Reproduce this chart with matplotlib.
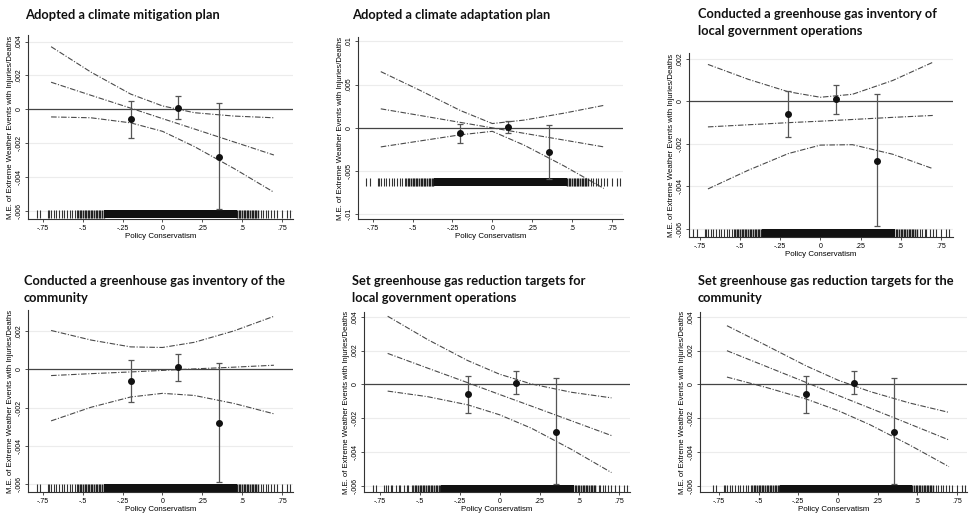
import matplotlib
matplotlib.use("Agg")
import matplotlib.pyplot as plt

# grid of x values used for the marginal effect lines
line_x = [-0.7, -0.45, -0.2, 0.0, 0.2, 0.45, 0.7]

# marginal effect, upper and lower 95% bounds per panel
me_1 = [0.0016, 0.00083, 0.00007, -0.00055, -0.00116, -0.00193, -0.0027]
hi_1 = [0.0037, 0.0022, 0.0009, 0.0002, -0.0002, -0.0004, -0.0005]
lo_1 = [-0.00045, -0.0005, -0.0008, -0.0013, -0.0022, -0.0035, -0.0049]

me_2 = [0.0022, 0.00142, 0.00063, 0.0, -0.00063, -0.00141, -0.0022]
hi_2 = [0.0065, 0.0043, 0.0020, 0.0005, 0.0009, 0.0017, 0.0026]
lo_2 = [-0.0022, -0.0015, -0.0008, -0.0004, -0.0020, -0.0044, -0.0070]

me_3 = [-0.0012, -0.0011, -0.0010, -0.00093, -0.00085, -0.00075, -0.00066]
hi_3 = [0.00175, 0.00105, 0.00046, 0.0002, 0.00034, 0.00099, 0.00185]
lo_3 = [-0.00413, -0.00325, -0.00246, -0.00206, -0.00204, -0.00249, -0.00317]

me_4 = [-0.00033, -0.00023, -0.00014, -0.00006, 0.00002, 0.00011, 0.00021]
hi_4 = [0.00203, 0.00153, 0.00117, 0.00114, 0.00141, 0.00201, 0.00277]
lo_4 = [-0.0027, -0.00199, -0.00145, -0.00126, -0.00137, -0.00179, -0.00233]

me_5 = [0.00183, 0.00096, 0.0001, -0.0006, -0.00129, -0.00216, -0.00303]
hi_5 = [0.00403, 0.00265, 0.00141, 0.0006, 0.00002, -0.00047, -0.0008]
lo_5 = [-0.0004, -0.00073, -0.00121, -0.0018, -0.0026, -0.00385, -0.00522]

me_6 = [0.00199, 0.00105, 0.00011, -0.00065, -0.0014, -0.00234, -0.00329]
hi_6 = [0.00347, 0.00229, 0.00109, 0.00025, -0.00042, -0.0011, -0.00166]
lo_6 = [0.00043, -0.00019, -0.00087, -0.00155, -0.00238, -0.00358, -0.00487]

# point estimates with error bars (same in every panel)
pt_x = [-0.2, 0.1, 0.355]
pt_est = [-0.0006, 0.0001, -0.0028]
pt_lo = [-0.0017, -0.0006, -0.0059]
pt_hi = [0.0005, 0.0008, 0.00035]

# rug of observed policy conservatism
rug_y = -0.0062
rug_sparse = [-0.79, -0.77, -0.72, -0.71, -0.70, -0.68, -0.67, -0.65, -0.63, -0.62,
              -0.60, -0.58, -0.57, -0.55, -0.54,
              0.62, 0.63, 0.65, 0.66, 0.68, 0.70, 0.72, 0.75, 0.78, 0.80]
rug_mid = [-0.53, -0.52, -0.51, -0.50, -0.49, -0.48, -0.47, -0.46, -0.45, -0.44,
           -0.43, -0.42, -0.41, -0.40, -0.39, -0.38, -0.37,
           0.47, 0.48, 0.49, 0.50, 0.51, 0.52, 0.53, 0.54, 0.55, 0.56,
           0.57, 0.58, 0.59, 0.60]
rug_dense = [-0.36, -0.35, -0.34, -0.33, -0.32, -0.31, -0.30, -0.29, -0.28, -0.27,
             -0.26, -0.25, -0.24, -0.23, -0.22, -0.21, -0.20, -0.19, -0.18, -0.17,
             -0.16, -0.15, -0.14, -0.13, -0.12, -0.11, -0.10, -0.09, -0.08, -0.07,
             -0.06, -0.05, -0.04, -0.03, -0.02, -0.01, 0.00, 0.01, 0.02, 0.03,
             0.04, 0.05, 0.06, 0.07, 0.08, 0.09, 0.10, 0.11, 0.12, 0.13,
             0.14, 0.15, 0.16, 0.17, 0.18, 0.19, 0.20, 0.21, 0.22, 0.23,
             0.24, 0.25, 0.26, 0.27, 0.28, 0.29, 0.30, 0.31, 0.32, 0.33,
             0.34, 0.35, 0.36, 0.37, 0.38, 0.39, 0.40, 0.41, 0.42, 0.43,
             0.44, 0.45, 0.46]

titles = [
    ["Adopted a climate mitigation plan"],
    ["Adopted a climate adaptation plan"],
    ["Conducted a greenhouse gas inventory of", "local government operations"],
    ["Conducted a greenhouse gas inventory of the", "community"],
    ["Set greenhouse gas reduction targets for", "local government operations"],
    ["Set greenhouse gas reduction targets for the", "community"],
]

xticks = [-0.75, -0.5, -0.25, 0, 0.25, 0.5, 0.75]
xtick_labels = ["-.75", "-.5", "-.25", "0", ".25", ".5", ".75"]
yticks_a = [-0.006, -0.004, -0.002, 0, 0.002, 0.004]
ylabels_a = ["-.006", "-.004", "-.002", "0", ".002", ".004"]
yticks_b = [-0.01, -0.005, 0, 0.005, 0.01]
ylabels_b = ["-.01", "-.005", "0", ".005", ".01"]
yticks_c = [-0.006, -0.004, -0.002, 0, 0.002]
ylabels_c = ["-.006", "-.004", "-.002", "0", ".002"]

W, H = 971, 518
fig = plt.figure(figsize=(W / 100, H / 100), dpi=100)

# panel boxes in pixels (left, top, right, bottom), axis limits, title spot
panels = [
    dict(box=(28, 35, 293, 219), xlim=(-0.845, 0.82), ylim=(-0.00648, 0.00439),
         yt=(yticks_a, ylabels_a), data=(me_1, hi_1, lo_1), tpos=(25, 19)),
    dict(box=(358, 37, 623, 219), xlim=(-0.843, 0.82), ylim=(-0.01053, 0.0105),
         yt=(yticks_b, ylabels_b), data=(me_2, hi_2, lo_2), tpos=(352, 19)),
    dict(box=(689, 53, 953, 237), xlim=(-0.818, 0.826), ylim=(-0.0064, 0.00229),
         yt=(yticks_c, ylabels_c), data=(me_3, hi_3, lo_3), tpos=(698, 18.5)),
    dict(box=(28, 310, 293, 492), xlim=(-0.845, 0.82), ylim=(-0.00642, 0.0031),
         yt=(yticks_c, ylabels_c), data=(me_4, hi_4, lo_4), tpos=(24, 285)),
    dict(box=(364, 312, 630, 492), xlim=(-0.848, 0.816), ylim=(-0.00637, 0.00428),
         yt=(yticks_a, ylabels_a), data=(me_5, hi_5, lo_5), tpos=(352, 285)),
    dict(box=(700, 312, 967, 492), xlim=(-0.87, 0.814), ylim=(-0.00637, 0.00428),
         yt=(yticks_a, ylabels_a), data=(me_6, hi_6, lo_6), tpos=(698, 285)),
]

dash = (0, (5, 1.5, 1, 1.5))
axis_font = "Liberation Sans"

for p, title in zip(panels, titles):
    l, t, r, b = p["box"]
    ax = fig.add_axes([l / W, (H - b) / H, (r - l) / W, (b - t) / H])
    ax.set_xlim(*p["xlim"])
    ax.set_ylim(*p["ylim"])

    yt, yl = p["yt"]
    for y in yt:
        if y != 0:
            ax.axhline(y, color="#ececec", lw=0.8, zorder=0)
    ax.axhline(0, color="#444444", lw=0.9, zorder=1)

    me, hi, lo = p["data"]
    for series in (hi, me, lo):
        ax.plot(line_x, series, color="#4a4a4a", lw=0.8, linestyle=dash, zorder=2)

    ax.plot(rug_sparse, [rug_y] * len(rug_sparse), "|", color="#333333",
            ms=5.5, mew=0.8, zorder=2)
    ax.plot(rug_mid, [rug_y] * len(rug_mid), "|", color="#222222",
            ms=5.5, mew=1.05, zorder=2)
    ax.plot(rug_dense, [rug_y] * len(rug_dense), "|", color="#111111",
            ms=5.5, mew=1.5, zorder=2)

    yerr = [[e - lo_ for e, lo_ in zip(pt_est, pt_lo)],
            [hi_ - e for e, hi_ in zip(pt_est, pt_hi)]]
    ax.errorbar(pt_x, pt_est, yerr=yerr, fmt="o", color="#111111", ms=4,
                ecolor="#555555", elinewidth=0.9, capsize=2.2, capthick=0.9, zorder=3)

    for side in ("top", "right"):
        ax.spines[side].set_visible(False)
    for side in ("left", "bottom"):
        ax.spines[side].set_color("#333333")
        ax.spines[side].set_linewidth(0.8)

    ax.set_xticks(xticks)
    ax.set_xticklabels(xtick_labels, fontsize=5, family=axis_font)
    ax.set_yticks(yt)
    ax.set_yticklabels(yl, fontsize=5, family=axis_font, rotation=90, va="center")
    ax.tick_params(length=2.5, width=0.6, color="#333333", pad=1.5)
    ax.set_xlabel("Policy Conservatism", fontsize=5.7, family=axis_font, labelpad=1)
    ax.set_ylabel("M.E. of Extreme Weather Events with Injuries/Deaths",
                  fontsize=5.6, family=axis_font, labelpad=1.2)

    tx, ty = p["tpos"]
    for i, line in enumerate(title):
        fig.text(tx / W, 1 - (ty + i * 16.5) / H, line, fontsize=9.3, weight="bold",
                 family="Lato", va="baseline", ha="left", color="#111111")

fig.savefig("out.png", dpi=100, facecolor="white")
